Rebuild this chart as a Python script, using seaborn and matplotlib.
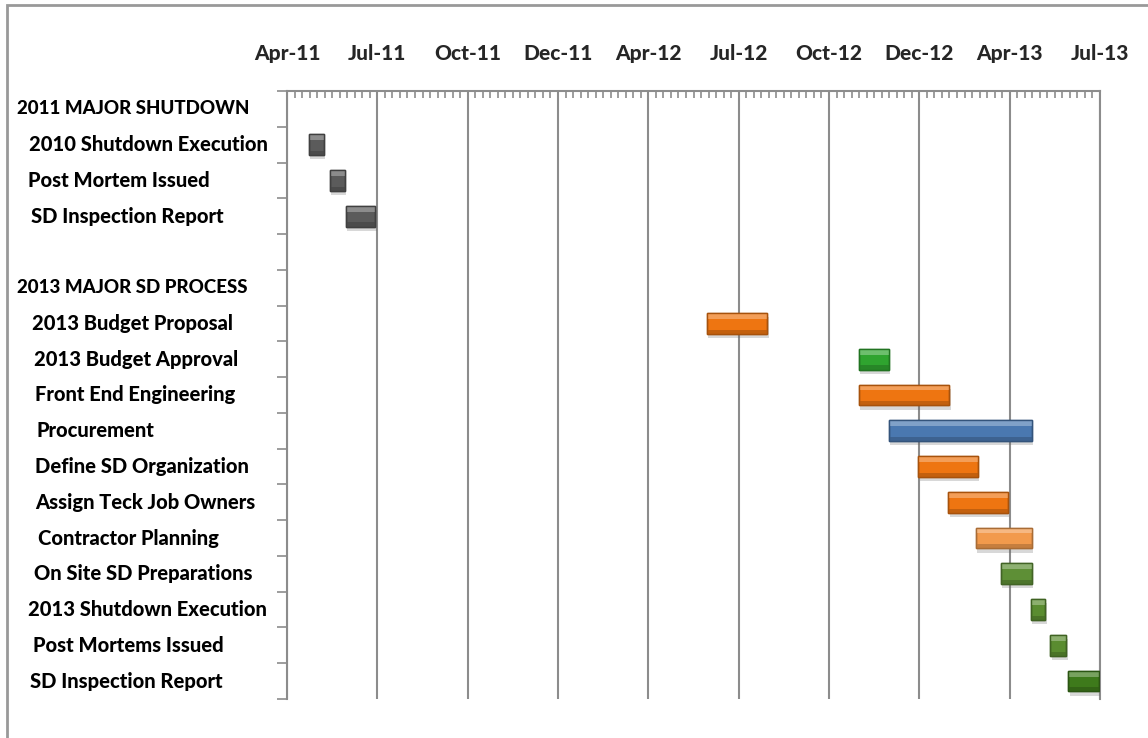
import numpy as np
import pandas as pd
import matplotlib
matplotlib.use("Agg")
import matplotlib.pyplot as plt
import matplotlib.patheffects as pe
from matplotlib.patches import Rectangle
from matplotlib.colors import to_rgb
from matplotlib.transforms import blended_transform_factory
import seaborn as sns

# gantt rows, top to bottom ("" is the spacer row)
rows = ["2011 MAJOR SHUTDOWN", "2010 Shutdown Execution", "Post Mortem Issued",
        "SD Inspection Report", "", "2013 MAJOR SD PROCESS", "2013 Budget Proposal",
        "2013 Budget Approval", "Front End Engineering", "Procurement",
        "Define SD Organization", "Assign Teck Job Owners", "Contractor Planning",
        "On Site SD Preparations", "2013 Shutdown Execution", "Post Mortems Issued",
        "SD Inspection Report"]
headings = ["2011 MAJOR SHUTDOWN", "2013 MAJOR SD PROCESS"]

# bars: row index, start (days after the Apr-11 gridline), duration in days
task_row = [1, 2, 3, 6, 7, 8, 9, 10, 11, 12, 13, 14, 15, 16]
start_day = [22, 43, 59, 423, 576, 576, 606, 636, 666, 694, 719, 749, 769, 787]
duration = [15, 15, 30, 61, 30, 91, 144, 60, 60, 56, 31, 15, 16, 31]
bar_color = ["#5b5b5b", "#5b5b5b", "#5b5b5b", "#ee7511", "#2fa42f", "#ee7511",
             "#4a78b0", "#ee7511", "#ee7511", "#f29a4c", "#5e8f36", "#5a8c30",
             "#5a8c30", "#3e7a1b"]

tick_labels = ["Apr-11", "Jul-11", "Oct-11", "Dec-11", "Apr-12", "Jul-12",
               "Oct-12", "Dec-12", "Apr-13", "Jul-13"]
tick_step = 91  # days between labelled gridlines
minor_per_step = 12

# left edge of each row name in pixels (the labels are typed with uneven spaces)
label_x = [17, 29, 28, 31, 0, 17, 32, 34, 35, 37, 35, 35, 38, 34, 28, 33, 30]

sns.set_style("white")
plt.rcParams['font.family'] = ['Lato', 'DejaVu Sans']

W, H = 1148, 738
fig = plt.figure(figsize=(W / 100, H / 100), dpi=100)
ax = fig.add_axes([287 / W, 1 - 699 / H, (1100 - 287) / W, (699 - 91) / H])

df = pd.DataFrame({"row": [str(r) for r in task_row], "dur": duration})
order = [str(i) for i in range(len(rows))]
sns.barplot(data=df, x="dur", y="row", order=order, hue="row",
            palette=dict(zip(df["row"], bar_color)), saturation=1,
            width=0.58, legend=False, orient="h", ax=ax, zorder=3)

start_of = dict(zip(task_row, start_day))
col_of = dict(zip(task_row, bar_color))
for p in list(ax.patches):
    r = int(round(p.get_y() + p.get_height() / 2))
    p.set_x(start_of[r])
    c = np.array(to_rgb(col_of[r]))
    dark = c * 0.7
    p.set_edgecolor(dark)
    p.set_linewidth(1.0)
    p.set_path_effects([pe.SimplePatchShadow(offset=(1, -3), alpha=0.25, shadow_rgbFace="0.4"),
                        pe.Normal()])
    x, y, w, h = p.get_x(), p.get_y(), p.get_width(), p.get_height()
    light = c + (1 - c) * 0.3
    ax.add_patch(Rectangle((x, y), w, h * 0.28, facecolor=light, edgecolor="none", zorder=4))
    ax.add_patch(Rectangle((x, y + h * 0.8), w, h * 0.2, facecolor=c * 0.82,
                           edgecolor="none", zorder=4))
    ax.add_patch(Rectangle((x, y), w, h, facecolor="none", edgecolor=dark, lw=1.0, zorder=5))

n_steps = len(tick_labels) - 1
ax.set_xlim(0, n_steps * tick_step)
ax.set_ylim(len(rows) - 0.5, -0.5)
ax.set_xlabel("")
ax.set_ylabel("")

# top date axis
ax.xaxis.tick_top()
ax.set_xticks(np.arange(len(tick_labels)) * tick_step)
ax.set_xticklabels(tick_labels, fontsize=15, fontweight="black")
ax.set_xticks(np.arange(0, n_steps * tick_step + 1, tick_step / minor_per_step), minor=True)
ax.tick_params(axis="x", which="major", direction="in", length=6, width=1.2,
               color="#8c8c8c", pad=20)
ax.tick_params(axis="x", which="minor", direction="in", length=5, width=1.2,
               color="#8c8c8c", top=True, bottom=False)
ax.grid(axis="x", which="major", color="#8c8c8c", lw=1.5, zorder=1)
ax.set_axisbelow(True)

# row separators on the left
ax.set_yticks(np.arange(len(rows) + 1) - 0.5)
ax.set_yticklabels([])
ax.tick_params(axis="y", which="major", direction="out", length=7, width=1.2,
               color="#8c8c8c", left=True)

ax.spines["bottom"].set_visible(False)
for side in ["top", "left", "right"]:
    ax.spines[side].set_color("#8c8c8c")
    ax.spines[side].set_linewidth(1.5)

# task names
tr = blended_transform_factory(fig.transFigure, ax.transData)
for i, name in enumerate(rows):
    if not name:
        continue
    heading = name in headings
    ax.text(label_x[i] / W, i, name, transform=tr, ha="left", va="center",
            fontsize=13.5 if heading else 14.5, fontweight="black", color="black")

# frame round the chart area
fig.patches.append(Rectangle((7 / W, -0.05), 1.2, 1 - 5 / H + 0.05, transform=fig.transFigure,
                             facecolor="none", edgecolor="#999999", lw=2))

fig.savefig("out.png", dpi=100)
